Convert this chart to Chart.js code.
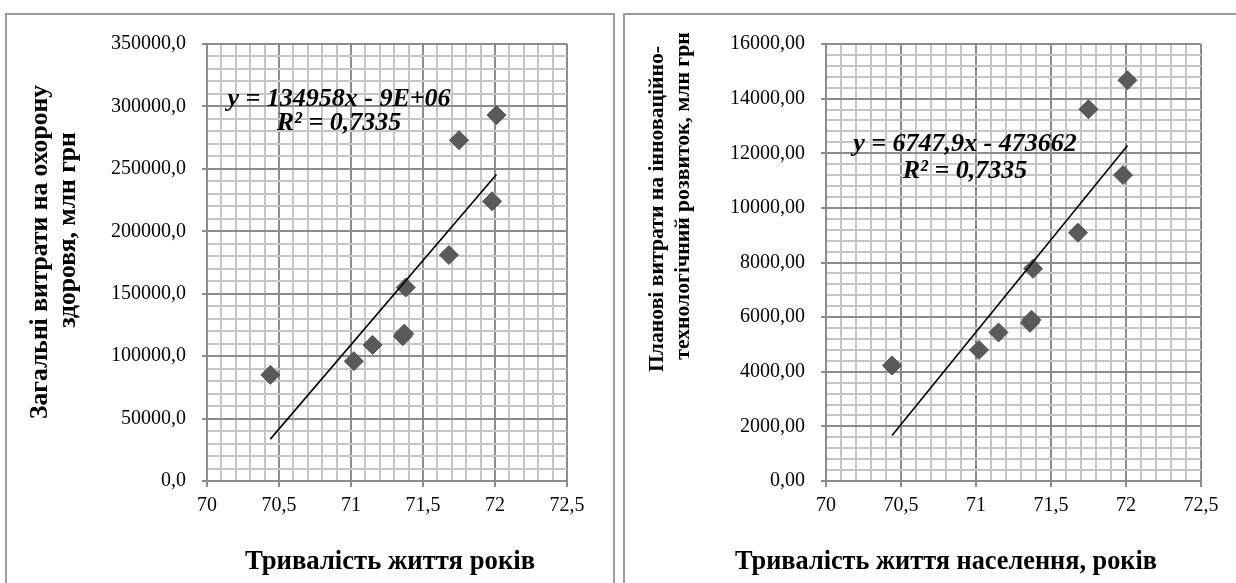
<!DOCTYPE html>
<html>
<head>
<meta charset="utf-8">
<script src="https://cdn.jsdelivr.net/npm/chart.js@4.4.1/dist/chart.umd.min.js"></script>
<style>
  body { margin: 0; background: #fff; width: 1236px; height: 583px; overflow: hidden; position: relative; }
  .panel { position: absolute; border: 2px solid #9a9a9a; box-sizing: border-box; }
  canvas { position: absolute; }
</style>
</head>
<body>
<div class="panel" style="left:5px; top:13px; width:610px; height:620px;"></div>
<div class="panel" style="left:623px; top:13px; width:640px; height:620px;"></div>
<canvas id="leftChart" width="604" height="567" style="left:8px; top:16px;"></canvas>
<canvas id="rightChart" width="610" height="567" style="left:626px; top:16px;"></canvas>
<script>
// тривалість життя, років
const lifeYears = [70.44, 71.02, 71.15, 71.36, 71.37, 71.38, 71.68, 71.75, 71.98, 72.01];
// загальні витрати на охорону здоров'я, млн грн
const healthSpend = [85000, 96000, 109000, 116000, 118000, 155000, 181000, 273000, 224000, 293000];
// планові витрати на інноваційно-технологічний розвиток, млн грн
const innovSpend = [4230, 4800, 5440, 5790, 5900, 7770, 9090, 13610, 11200, 14670];

const xRange = [70, 72.5];
const xSteps = [0.1, 0.5]; // minor, major
const leftYRange = [0, 350000];
const leftYSteps = [10000, 50000];
const rightYRange = [0, 16000];
const rightYSteps = [400, 2000];

const leftEquation = ["y = 134958x - 9E+06", "R² = 0,7335"];
const rightEquation = ["y = 6747,9x - 473662", "R² = 0,7335"];
const leftYTitle = ["Загальні витрати на охорону", "здоровя, млн грн"];
const rightYTitle = ["Планові витрати на інноваційно-", "технологічний розвиток, млн грн"];
const leftXTitle = "Тривалість життя років";
const rightXTitle = "Тривалість життя населення, років";

const MAJOR = "#8c8c8c";
const MINOR = "#c6c6c6";
const SERIF = "'Liberation Serif', 'Times New Roman', serif";

function isMajor(v, step) {
    let r = v / step;
    return Math.abs(r - Math.round(r)) < 1e-6;
}

// лінійний тренд за методом найменших квадратів
function trendPoints(xs, ys) {
    let n = xs.length;
    let mx = xs.reduce((a, b) => a + b, 0) / n;
    let my = ys.reduce((a, b) => a + b, 0) / n;
    let sxy = 0, sxx = 0;
    for (let i = 0; i < n; i++) {
        sxy += (xs[i] - mx) * (ys[i] - my);
        sxx += (xs[i] - mx) * (xs[i] - mx);
    }
    let k = sxy / sxx;
    let b = my - k * mx;
    let x0 = Math.min(...xs), x1 = Math.max(...xs);
    return [{x: x0, y: k * x0 + b}, {x: x1, y: k * x1 + b}];
}

// підбір розміру шрифту під потрібну сумарну ширину рядків
function fitFont(ctx, lines, widths) {
    ctx.font = "bold 25px " + SERIF;
    let measured = 0, target = 0;
    lines.forEach((t, i) => { measured += ctx.measureText(t).width; target += widths[i]; });
    let size = 25 * target / measured;
    ctx.font = "bold " + size.toFixed(1) + "px " + SERIF;
}

function makeChart(id, ys, yRange, ySteps, decimals, layout) {
    let points = lifeYears.map((x, i) => ({x: x, y: ys[i]}));

    const textPlugin = {
        id: "texts",
        afterDraw(chart) {
            let ctx = chart.ctx;
            ctx.save();
            ctx.fillStyle = "#000";
            // рівняння тренду
            ctx.font = "bold italic " + layout.eqSize + "px " + SERIF;
            ctx.textAlign = "center";
            ctx.textBaseline = "alphabetic";
            ctx.fillText(layout.eq[0], layout.eqX, layout.eqY[0]);
            ctx.fillText(layout.eq[1], layout.eqX, layout.eqY[1]);
            // назва осі X
            fitFont(ctx, [layout.xTitle], [layout.xTitleW]);
            ctx.fillText(layout.xTitle, layout.xTitleX, layout.xTitleY);
            // назва осі Y
            ctx.textBaseline = "middle";
            fitFont(ctx, layout.yTitle, layout.yTitleW);
            for (let i = 0; i < 2; i++) {
                ctx.save();
                ctx.translate(layout.yTitleX[i], layout.yTitleY[i]);
                ctx.rotate(-Math.PI / 2);
                ctx.fillText(layout.yTitle[i], 0, 0);
                ctx.restore();
            }
            ctx.restore();
        }
    };

    return new Chart(document.getElementById(id), {
        type: "scatter",
        data: {
            datasets: [
                {
                    data: points,
                    pointStyle: "rectRot",
                    pointRadius: 9.5,
                    backgroundColor: "#5a5a5a",
                    borderColor: "#505050",
                    borderWidth: 1,
                    order: 2
                },
                {
                    type: "line",
                    data: trendPoints(lifeYears, ys),
                    borderColor: "#000",
                    borderWidth: 1.6,
                    pointRadius: 0,
                    fill: false,
                    order: 1
                }
            ]
        },
        options: {
            responsive: false,
            animation: false,
            devicePixelRatio: 1,
            layout: {padding: {left: 0, top: layout.padTop, right: layout.padRight, bottom: 0}},
            plugins: {legend: {display: false}, tooltip: {enabled: false}},
            scales: {
                x: {
                    type: "linear",
                    min: xRange[0],
                    max: xRange[1],
                    afterFit(scale) { scale.height = layout.xAxisHeight; },
                    border: {color: MAJOR, width: 2},
                    grid: {
                        color: (c) => isMajor(c.tick.value, xSteps[1]) ? MAJOR : MINOR,
                        tickColor: (c) => isMajor(c.tick.value, xSteps[1]) ? MAJOR : "rgba(0,0,0,0)",
                        lineWidth: 2,
                        tickLength: 6
                    },
                    ticks: {
                        stepSize: xSteps[0],
                        autoSkip: false,
                        maxRotation: 0,
                        padding: 7,
                        color: "#000",
                        font: {family: SERIF, size: 20},
                        callback: (v) => isMajor(v, xSteps[1]) ? String(+v.toFixed(1)).replace(".", ",") : ""
                    }
                },
                y: {
                    type: "linear",
                    min: yRange[0],
                    max: yRange[1],
                    afterFit(scale) { scale.width = layout.yAxisWidth; },
                    border: {color: MAJOR, width: 2},
                    grid: {
                        color: (c) => isMajor(c.tick.value, ySteps[1]) ? MAJOR : MINOR,
                        tickColor: (c) => isMajor(c.tick.value, ySteps[1]) ? MAJOR : "rgba(0,0,0,0)",
                        lineWidth: 2,
                        tickLength: 5
                    },
                    ticks: {
                        stepSize: ySteps[0],
                        autoSkip: false,
                        padding: 16,
                        color: "#000",
                        font: {family: SERIF, size: 20},
                        callback: (v) => isMajor(v, ySteps[1]) ? v.toFixed(decimals).replace(".", ",") : ""
                    }
                }
            }
        },
        plugins: [textPlugin]
    });
}

makeChart("leftChart", healthSpend, leftYRange, leftYSteps, 1, {
    padTop: 27, padRight: 45, yAxisWidth: 199, xAxisHeight: 102,
    eq: leftEquation, eqSize: 26, eqX: 331, eqY: [90, 114],
    xTitle: leftXTitle, xTitleX: 382, xTitleY: 553, xTitleW: 290,
    yTitle: leftYTitle, yTitleX: [32, 60], yTitleY: [236, 214], yTitleW: [343, 186]
});

makeChart("rightChart", innovSpend, rightYRange, rightYSteps, 2, {
    padTop: 27, padRight: 35, yAxisWidth: 200, xAxisHeight: 102,
    eq: rightEquation, eqSize: 26, eqX: 339, eqY: [135, 162],
    xTitle: rightXTitle, xTitleX: 320, xTitleY: 553, xTitleW: 422,
    yTitle: rightYTitle, yTitleX: [31, 57], yTitleY: [193, 180], yTitleW: [338, 315]
});
</script>
</body>
</html>
